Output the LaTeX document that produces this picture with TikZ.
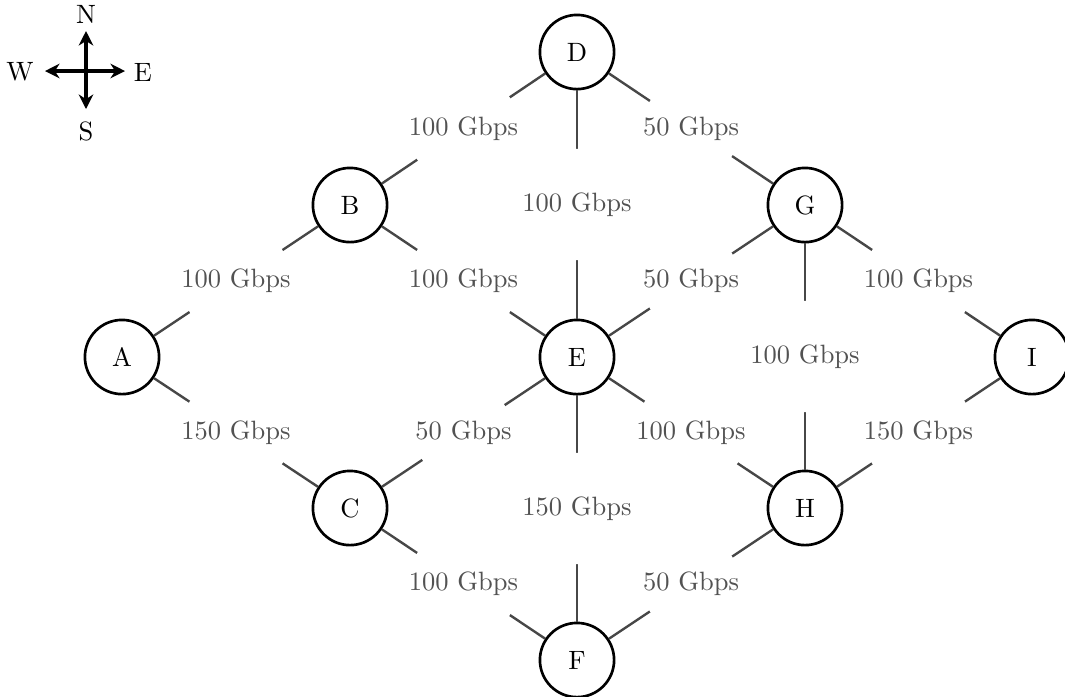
\documentclass[tikz,border=0pt]{standalone}
\usetikzlibrary{arrows.meta}
\begin{document}
\begin{tikzpicture}[x=0.3774pt,y=-0.3774pt,
  router/.style={circle,draw,line width=1pt,minimum size=28pt,inner sep=0pt,fill=white},
  link/.style={draw=black!72,line width=0.9pt},
  rate/.style={circle,fill=white,inner sep=0pt,text=black!68},
  compass/.style={line width=1.4pt,{Stealth[length=5.5pt,width=5.5pt]}-{Stealth[length=5.5pt,width=5.5pt]}}]
\useasboundingbox (0,0) rectangle (1065,696);

% routers
\node[router] (D) at (577,52)  {D};
\node[router] (B) at (350,205) {B};
\node[router] (G) at (805,205) {G};
\node[router] (A) at (122,357) {A};
\node[router] (E) at (577,357) {E};
\node[router] (I) at (1032,357) {I};
\node[router] (C) at (350,508) {C};
\node[router] (H) at (805,508) {H};
\node[router] (F) at (577,660) {F};

% links with capacities
\draw[link] (A) -- node[rate] {100 Gbps} (B);
\draw[link] (A) -- node[rate] {150 Gbps} (C);
\draw[link] (B) -- node[rate] {100 Gbps} (D);
\draw[link] (B) -- node[rate] {100 Gbps} (E);
\draw[link] (C) -- node[rate] {50 Gbps} (E);
\draw[link] (C) -- node[rate] {100 Gbps} (F);
\draw[link] (D) -- node[rate] {100 Gbps} (E);
\draw[link] (D) -- node[rate] {50 Gbps} (G);
\draw[link] (E) -- node[rate] {50 Gbps} (G);
\draw[link] (E) -- node[rate] {100 Gbps} (H);
\draw[link] (E) -- node[rate] {150 Gbps} (F);
\draw[link] (G) -- node[rate] {100 Gbps} (I);
\draw[link] (G) -- node[rate] {100 Gbps} (H);
\draw[link] (H) -- node[rate] {150 Gbps} (I);
\draw[link] (F) -- node[rate] {50 Gbps} (H);

% compass rose
\coordinate (cN) at (86,31);
\coordinate (cS) at (86,109);
\coordinate (cW) at (45,71);
\coordinate (cE) at (125,71);
\draw[compass] (cN) -- (cS);
\draw[compass] (cW) -- (cE);
\node (lN) at (86,14)  {N};
\node (lS) at (86,131) {S};
\node (lW) at (20,72)  {W};
\node (lE) at (143,72) {E};
\end{tikzpicture}
\end{document}
